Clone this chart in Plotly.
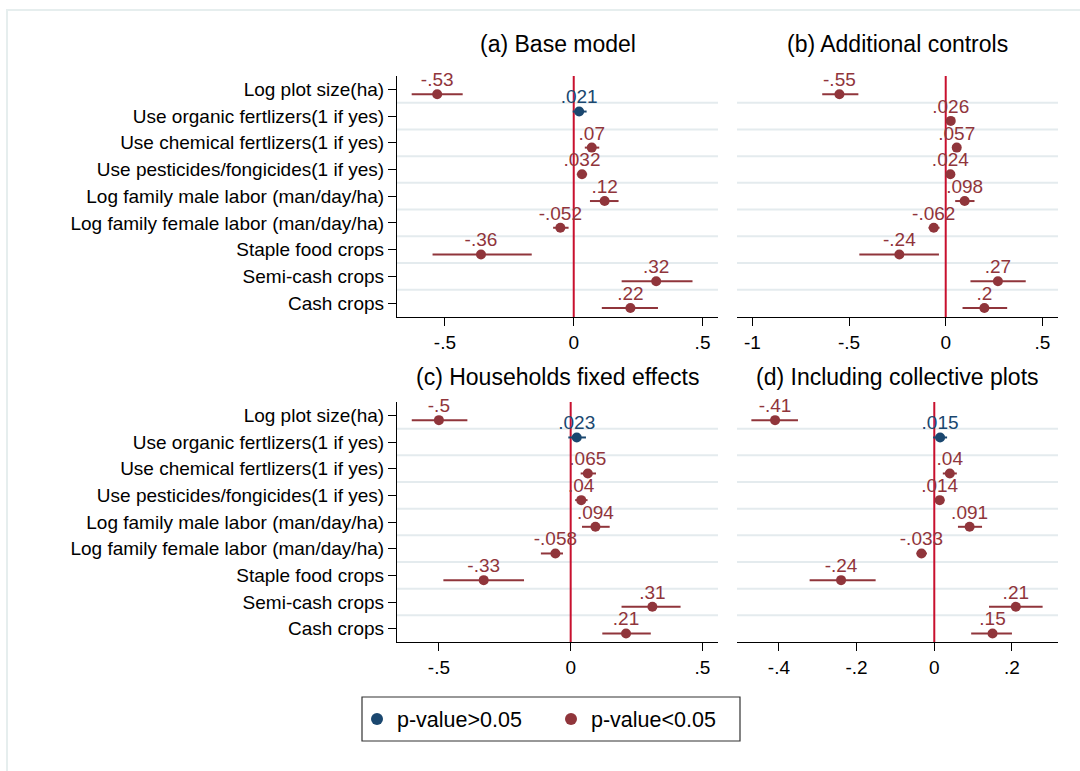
import plotly.graph_objects as go

W, H = 1080, 771

labels = ["Log plot size(ha)", "Use organic fertlizers(1 if yes)", "Use chemical fertlizers(1 if yes)",
          "Use pesticides/fongicides(1 if yes)", "Log family male labor (man/day/ha)",
          "Log family female labor (man/day/ha)", "Staple food crops", "Semi-cash crops", "Cash crops"]

titles = ["(a) Base model", "(b) Additional controls", "(c) Households fixed effects",
          "(d) Including collective plots"]

coef_a = [-0.53, 0.021, 0.07, 0.032, 0.12, -0.052, -0.36, 0.32, 0.22]
lo_a = [-0.629, -0.004, 0.043, 0.012, 0.063, -0.080, -0.548, 0.186, 0.109]
hi_a = [-0.431, 0.050, 0.099, 0.052, 0.174, -0.020, -0.163, 0.461, 0.327]
sig_a = [1, 0, 1, 1, 1, 1, 1, 1, 1]

coef_b = [-0.55, 0.026, 0.057, 0.024, 0.098, -0.062, -0.24, 0.27, 0.2]
lo_b = [-0.639, 0.008, 0.038, 0.006, 0.049, -0.089, -0.447, 0.128, 0.087]
hi_b = [-0.452, 0.044, 0.076, 0.042, 0.149, -0.032, -0.035, 0.414, 0.318]
sig_b = [1, 1, 1, 1, 1, 1, 1, 1, 1]

coef_c = [-0.5, 0.023, 0.065, 0.04, 0.094, -0.058, -0.33, 0.31, 0.21]
lo_c = [-0.603, -0.009, 0.038, 0.017, 0.043, -0.113, -0.483, 0.193, 0.120]
hi_c = [-0.392, 0.058, 0.096, 0.064, 0.148, -0.029, -0.177, 0.417, 0.304]
sig_c = [1, 0, 1, 1, 1, 1, 1, 1, 1]

coef_d = [-0.41, 0.015, 0.04, 0.014, 0.091, -0.033, -0.24, 0.21, 0.15]
lo_d = [-0.471, -0.003, 0.022, 0.002, 0.061, -0.046, -0.321, 0.141, 0.095]
hi_d = [-0.351, 0.033, 0.058, 0.026, 0.123, -0.019, -0.151, 0.279, 0.200]
sig_d = [1, 0, 1, 1, 1, 1, 1, 1, 1]

xticks_a = [-0.5, 0, 0.5]
xticks_b = [-1, -0.5, 0, 0.5]
xticks_c = [-0.5, 0, 0.5]
xticks_d = [-0.4, -0.2, 0, 0.2]

legend_names = ["p-value>0.05", "p-value<0.05"]

RED = "#90353b"
BLUE = "#1a476f"
ZERO = "#c8102e"
GRID = "#e4ebee"
FONT = "Liberation Sans, Arial, sans-serif"
TICK_SIZE = 19


def fmt(v):
    s = f"{v:g}"
    if s.startswith("0."):
        s = s[1:]
    elif s.startswith("-0."):
        s = "-" + s[2:]
    return s


def px_x(p):
    return p / W


def px_y(p):
    return 1 - p / H


panels = [
    dict(coef=coef_a, lo=lo_a, hi=hi_a, sig=sig_a, ticks=xticks_a, xr=[-0.686, 0.560],
         xd=[397, 718], yd=[76, 317], yr=[8.52, -0.5], ylab=True, title_y=44),
    dict(coef=coef_b, lo=lo_b, hi=hi_b, sig=sig_b, ticks=xticks_b, xr=[-1.08, 0.581],
         xd=[737, 1058], yd=[76, 317], yr=[8.52, -0.5], ylab=False, title_y=44),
    dict(coef=coef_c, lo=lo_c, hi=hi_c, sig=sig_c, ticks=xticks_c, xr=[-0.659, 0.559],
         xd=[397, 718], yd=[402, 642], yr=[8.5, -0.5], ylab=True, title_y=377),
    dict(coef=coef_d, lo=lo_d, hi=hi_d, sig=sig_d, ticks=xticks_d, xr=[-0.508, 0.3186],
         xd=[737, 1058], yd=[402, 642], yr=[8.5, -0.5], ylab=False, title_y=377),
]

fig = go.Figure()
layout = dict(
    width=W, height=H, margin=dict(l=0, r=0, t=0, b=0),
    paper_bgcolor="white", plot_bgcolor="white",
    font=dict(family=FONT, size=18, color="black"),
    showlegend=True,
    legend=dict(orientation="h", x=px_x(357), y=px_y(719), xanchor="left", yanchor="middle",
                borderwidth=0, bgcolor="rgba(0,0,0,0)",
                font=dict(size=21.5, family=FONT, color="black"), entrywidth=149,
                entrywidthmode="pixels", itemsizing="constant"),
)
shapes = []
annotations = []

rows = list(range(len(labels)))
LABEL_LIFT = 0.48

for i, p in enumerate(panels):
    n = "" if i == 0 else str(i + 1)
    xa, ya = "x" + n, "y" + n
    for group, (color, offset) in enumerate([(BLUE, -0.17), (RED, 0.18)]):
        want = 0 if group == 0 else 1
        idx = [k for k in rows if p["sig"][k] == want]
        xs = [p["coef"][k] for k in idx]
        ys = [rows[k] + offset for k in idx]
        fig.add_trace(go.Scatter(
            x=xs if xs else [None], y=ys if ys else [None],
            mode="markers",
            marker=dict(color=color, size=10),
            error_x=dict(type="data", symmetric=False,
                         array=[p["hi"][k] - p["coef"][k] for k in idx],
                         arrayminus=[p["coef"][k] - p["lo"][k] for k in idx],
                         color=color, thickness=2, width=0),
            name=legend_names[group],
            showlegend=(i == 0),
            xaxis=xa, yaxis=ya, cliponaxis=False,
        ))
        if xs:
            fig.add_trace(go.Scatter(
                x=xs, y=[y - LABEL_LIFT for y in ys], mode="text",
                text=[fmt(v) for v in xs], textposition="middle center",
                textfont=dict(color=color, size=19, family=FONT),
                showlegend=False, hoverinfo="skip",
                xaxis=xa, yaxis=ya, cliponaxis=False,
            ))
    layout["xaxis" + n] = dict(
        domain=[px_x(p["xd"][0]), px_x(p["xd"][1])], range=p["xr"], anchor=ya,
        tickvals=p["ticks"], ticktext=[fmt(t) for t in p["ticks"]],
        showgrid=False, zeroline=False, showline=True, linecolor="black", linewidth=1.2,
        ticks="outside", ticklen=8, tickcolor="black", tickwidth=1.2,
        tickfont=dict(size=TICK_SIZE, family=FONT, color="black"),
    )
    layout["yaxis" + n] = dict(
        domain=[px_y(p["yd"][1]), px_y(p["yd"][0])], range=p["yr"], anchor=xa,
        tickvals=rows, ticktext=labels if p["ylab"] else [""] * len(rows),
        showticklabels=p["ylab"],
        showgrid=False, zeroline=False, showline=p["ylab"], linecolor="black", linewidth=1.2,
        ticks="outside" if p["ylab"] else "", ticklen=8, tickcolor="black", tickwidth=1.2,
        tickfont=dict(size=TICK_SIZE, family=FONT, color="black"),
    )
    for k in rows[:-1]:
        shapes.append(dict(type="line", xref=xa + " domain", yref=ya, x0=0, x1=1,
                           y0=k + 0.5, y1=k + 0.5, line=dict(color=GRID, width=2), layer="below"))
    shapes.append(dict(type="line", xref=xa, yref=ya + " domain", x0=0, x1=0, y0=0, y1=1,
                       line=dict(color=ZERO, width=2), layer="below"))
    annotations.append(dict(text=titles[i], xref="paper", yref="paper",
                             x=px_x((p["xd"][0] + p["xd"][1]) / 2), y=px_y(p["title_y"]),
                             xanchor="center", yanchor="middle", showarrow=False,
                             font=dict(size=23, family=FONT, color="black")))

# outer graph-region frame
shapes.append(dict(type="rect", xref="paper", yref="paper", x0=px_x(7), x1=1.05,
                   y0=-0.05, y1=px_y(10), line=dict(color="#e6eeee", width=2), layer="below"))
# legend box
shapes.append(dict(type="rect", xref="paper", yref="paper", x0=px_x(362), x1=px_x(740),
                   y0=px_y(741), y1=px_y(697), line=dict(color="#333333", width=1.2),
                   layer="below"))

layout["shapes"] = shapes
layout["annotations"] = annotations
fig.update_layout(**layout)
fig.write_html("out.html")
